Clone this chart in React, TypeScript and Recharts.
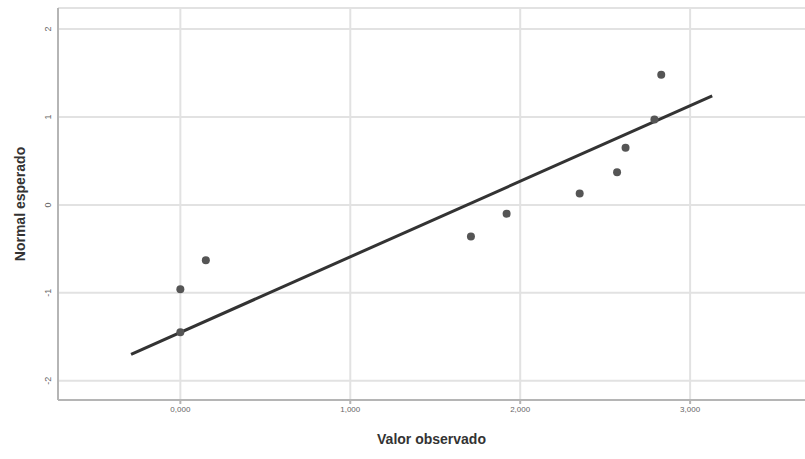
import React from "react";
import {
  ScatterChart,
  Scatter,
  XAxis,
  YAxis,
  CartesianGrid,
  ReferenceLine,
} from "recharts";

const observed = [0, 0, 0.15, 1.71, 1.92, 2.35, 2.57, 2.62, 2.79, 2.83];
const expected = [-0.96, -1.45, -0.63, -0.36, -0.1, 0.13, 0.37, 0.65, 0.97, 1.48];
const lineX = [-0.29, 3.13];
const lineY = [-1.7, 1.24];
const xTicks = [0, 1, 2, 3];
const yTicks = [-2, -1, 0, 1, 2];

const points = observed.map((x, i) => ({ x, y: expected[i] }));
const refLine = lineX.map((x, i) => ({ x, y: lineY[i] }));

const font = "'Liberation Sans', Arial, sans-serif";
const gridColor = "#e2e2e2";

// tick labels on the y axis are turned on their side, just left of the axis
const YTick = (props: any) => {
  const { y, payload } = props;
  const tx = 51;
  return (
    <text
      x={tx}
      y={y}
      transform={`rotate(-90 ${tx} ${y})`}
      textAnchor="middle"
      fontSize={9}
      fill="#666"
      fontFamily={font}
    >
      {payload.value}
    </text>
  );
};

export default function App() {
  return (
    <div style={{ position: "absolute", left: 0, top: 0 }}>
      <ScatterChart
        width={805}
        height={459}
        margin={{ top: 8, right: 0, bottom: 0, left: 0 }}
      >
        <CartesianGrid stroke={gridColor} strokeWidth={2} vertical={false} />
        {xTicks.map((t) => (
          <ReferenceLine key={t} x={t} stroke={gridColor} strokeWidth={2} />
        ))}
        <XAxis
          type="number"
          dataKey="x"
          domain={[-0.72, 3.676]}
          ticks={xTicks}
          allowDataOverflow
          height={59}
          stroke="#b5b5b5"
          strokeWidth={2}
          tickSize={4}
          tick={{ fontSize: 8, fill: "#666", fontFamily: font }}
          tickFormatter={(v: number) => v.toFixed(3).replace(".", ",")}
          label={{
            value: "Valor observado",
            position: "insideBottom",
            offset: 15,
            fontSize: 14,
            fontWeight: "bold",
            fill: "#333",
            fontFamily: font,
          }}
        />
        <YAxis
          type="number"
          dataKey="y"
          domain={[-2.22, 2.24]}
          ticks={yTicks}
          allowDataOverflow
          width={58}
          stroke="#b5b5b5"
          strokeWidth={2}
          tickLine={false}
          tick={<YTick />}
          label={{
            value: "Normal esperado",
            angle: -90,
            position: "insideLeft",
            offset: 20,
            style: { textAnchor: "middle" },
            fontSize: 14,
            fontWeight: "bold",
            fill: "#333",
            fontFamily: font,
          }}
        />
        <Scatter
          data={refLine}
          line={{ stroke: "#333", strokeWidth: 3 }}
          shape={() => <g />}
          isAnimationActive={false}
        />
        <Scatter
          data={points}
          fill="#555"
          shape={(p: any) => <circle cx={p.cx} cy={p.cy} r={4} fill="#555" />}
          isAnimationActive={false}
        />
      </ScatterChart>
    </div>
  );
}
